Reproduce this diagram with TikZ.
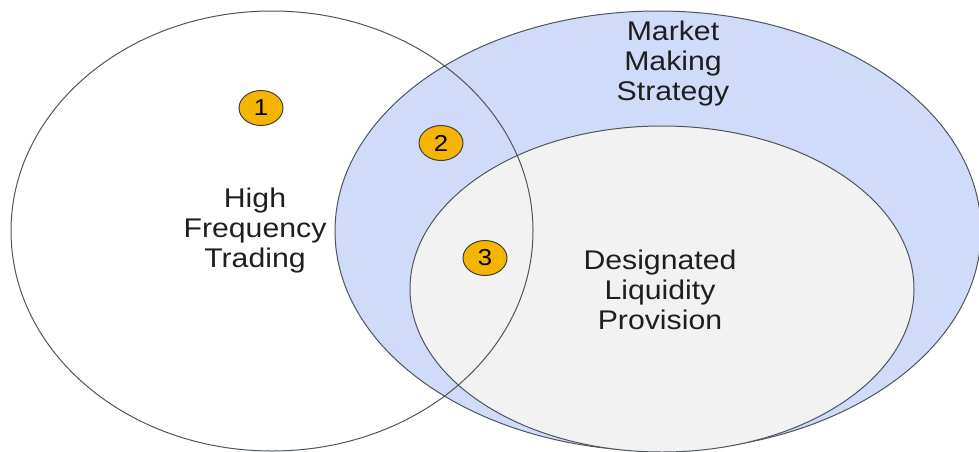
\documentclass[tikz,border=0pt]{standalone}
\usepackage{fontspec}
\setmainfont[FakeStretch=1.12]{Liberation Sans}
\usetikzlibrary{shapes.geometric}
\definecolor{mmblue}{RGB}{207,219,248}
\definecolor{dlpgray}{RGB}{242,242,242}
\definecolor{badgegold}{RGB}{245,180,0}
\definecolor{rim}{RGB}{80,84,92}
\begin{document}
\begin{tikzpicture}[x=1pt,y=-1pt,line width=1pt,
  setname/.style={align=center,text=black!88,font=\fontsize{27}{30}\selectfont},
  numbadge/.style={ellipse,draw=black!75,fill=badgegold,inner sep=0pt,
    minimum width=44pt,minimum height=35pt,font=\fontsize{23}{23}\selectfont}]
\useasboundingbox (0,0) rectangle (979,452);
\draw[rim,fill=mmblue] (658,231) ellipse [x radius=323,y radius=220];
\draw[rim,fill=dlpgray] (662,289) ellipse [x radius=252,y radius=163];
\draw[rim] (272,231) ellipse [x radius=261,y radius=220];
\node[setname] (hft) at (255,231) {High\\Frequency\\Trading};
\node[setname] (mms) at (673,64) {Market\\Making\\Strategy};
\node[setname] (dlp) at (660,290) {Designated\\Liquidity\\Provision};
\node[numbadge] (one) at (261,108) {1};
\node[numbadge] (two) at (441,143) {2};
\node[numbadge] (three) at (485,258) {3};
\end{tikzpicture}
\end{document}
